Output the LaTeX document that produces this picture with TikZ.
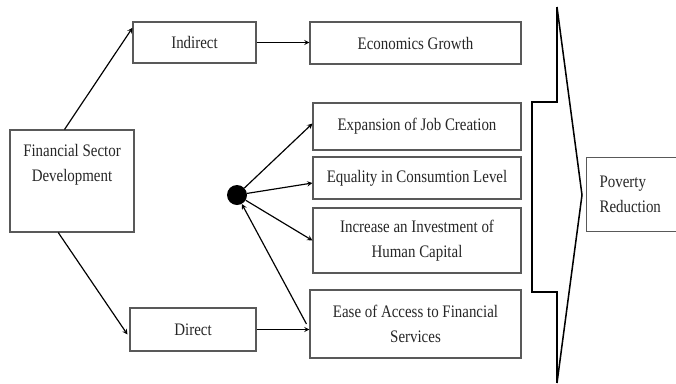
\documentclass[tikz,border=0pt]{standalone}
\usepackage{fontspec}
\setmainfont[FakeStretch=0.85]{Liberation Serif}
\usetikzlibrary{positioning, arrows, calc}
\def\px{0.03cm}
\tikzset{
    x=\px, y=-\px, % one unit = one pixel, y going down
    every node/.style={ % Text of every box
        font=\fontsize{15}{21}\selectfont,
        text=black!85
    },
    box/.style={ % Plain rectangles
        draw=black!65,
        line width=0.9pt,
        align=center
    },
    flow/.style={ % Arrows between the boxes
        ->,>=stealth,
        line width=1pt
    },
}

\begin{document}
\begin{tikzpicture}
            \clip (0,0) rectangle (676,383);
            % left side
            \node[box, minimum width=124*\px, minimum height=102*\px] (fsd)      at (72,181)    {};
            \node[align=center]                                        (fsdtext)  at (72,165)    {Financial Sector\\Development};
            \node[box, minimum width=123*\px, minimum height=41*\px]  (indirect) at (194.5,42.5) {Indirect};
            \node[box, minimum width=126*\px, minimum height=43*\px]  (direct)   at (193,329.5) {Direct};
            % channels
            \node[box, minimum width=211*\px, minimum height=42*\px]  (growth)   at (415.5,43)   {Economics Growth};
            \node[box, minimum width=208*\px, minimum height=47*\px]  (jobs)     at (417,126.5)  {Expansion of Job Creation};
            \node[box, minimum width=208*\px, minimum height=42*\px]  (equal)    at (417,178)    {Equality in Consumtion Level};
            \node[box, minimum width=208*\px, minimum height=65*\px]  (invest)   at (417,240.5)  {Increase an Investment of\\Human Capital};
            \node[box, minimum width=211*\px, minimum height=68*\px]  (access)   at (415.5,324)  {Ease of Access to Financial\\Services};
            \node[circle, fill=black, minimum size=20*\px, inner sep=0pt] (hub) at (237,195) {};
            % outcome
            \node[box, anchor=north west, align=left, minimum height=74*\px,
                  text width=80*\px, inner xsep=13*\px]               (poverty)  at (586,157)    {Poverty\\Reduction};

            \draw[flow] ($(fsd.north west)!0.44!(fsd.north east)$) -- ($(indirect.north west)!0.15!(indirect.south west)$);
            \draw[flow] (indirect) -- (indirect -| growth.west);
            \draw[flow] ($(fsd.south west)!0.39!(fsd.south east)$) -- ($(direct.west)+(-2,5)$);
            \draw[flow] (direct) -- (direct -| access.west);
            \draw[flow] ($(access.west)+(-3,0)$) -- (hub);
            \draw[flow] (hub) -- ($(jobs.west)+(0,-3)$);
            \draw[flow] (hub) -- ($(equal.west)+(0,5)$);
            \draw[flow] (hub) -- (invest.west);

            % bracket and chevron
            \draw[line width=2.4pt] (557,7) -- (557,102) -- (532,102) -- (532,292) -- (557,292) -- (557,383);
            \draw[line width=1.3pt] (557,7) -- (582,195) -- (557,383);
\end{tikzpicture}
\end{document}
